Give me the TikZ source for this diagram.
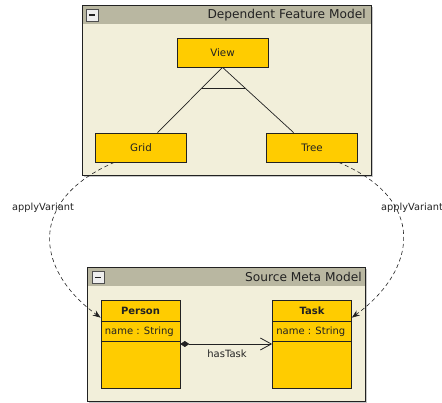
\documentclass[tikz,border=0pt]{standalone}
\usepackage{fontspec}
\setmainfont{DejaVu Sans}
\usetikzlibrary{arrows.meta,calc}
\definecolor{featfill}{HTML}{FFCC00}
\definecolor{pkgbg}{HTML}{F2EFDA}
\definecolor{pkghead}{HTML}{B9B7A1}
\definecolor{ink}{HTML}{222222}
\definecolor{btnfill}{HTML}{EEEEEE}
\tikzset{
  pkgframe/.style={draw=ink, fill=pkgbg, line width=0.9pt, anchor=north west, inner sep=0pt},
  pkgtitle/.style={anchor=east, text=ink, font=\fontsize{12.2}{14}\selectfont, inner sep=0pt},
  btn/.style={draw=ink!80, fill=btnfill, line width=0.6pt, minimum size=12pt, inner sep=0pt,
    path picture={\draw[ink, line width=1.5pt]
      ([xshift=-3.2pt]path picture bounding box.center) --
      ([xshift=3.2pt]path picture bounding box.center);}},
  feature/.style={draw=ink, fill=featfill, line width=0.7pt, minimum width=91pt,
    minimum height=29pt, inner sep=0pt, text=ink, font=\fontsize{10.3}{12}\selectfont},
  umlclass/.style={draw=ink, fill=featfill, line width=0.7pt, minimum width=79pt,
    minimum height=88pt, inner sep=0pt},
  classtext/.style={text=ink, inner sep=0pt, font=\fontsize{10}{12}\selectfont},
  edgelabel/.style={text=ink, inner sep=0pt, font=\fontsize{9.8}{11}\selectfont},
  treeline/.style={draw=ink, line width=0.7pt},
  variant/.style={draw=ink, line width=0.6pt, dash pattern=on 4pt off 3pt,
    -{Stealth[length=8pt,width=6pt]}},
}
\begin{document}
\begin{tikzpicture}[x=1pt, y=-1pt]
\useasboundingbox (0,0) rectangle (442,403);

% ---------- Dependent Feature Model package ----------
\fill[black!22] (84,7) rectangle (373,177);
\node[pkgframe, minimum width=289pt, minimum height=170pt] (fm) at (82,5) {};
\fill[pkghead] ([shift={(0.45pt,-0.45pt)}]fm.north west) rectangle ($(fm.north east)+(-0.45,19)$);
\draw[ink, line width=0.9pt] (fm.north west) rectangle (fm.south east);
\node[btn] (fmbtn) at ($(fm.north west)+(10,10)$) {};
\node[pkgtitle] (fmtitle) at ($(fm.north east)+(-6,10)$) {Dependent Feature Model};

\node[feature] (view) at (222.5,52.5) {View};
\node[feature] (grid) at (141,147.5) {Grid};
\node[feature] (tree) at (312,147.5) {Tree};

\coordinate (gridtop) at ($(grid.north west)!0.68!(grid.north east)$);
\coordinate (treetop) at ($(tree.north west)!0.30!(tree.north east)$);
\draw[treeline] (view.south) -- (gridtop);
\draw[treeline] (view.south) -- (treetop);
% alternative group arc
\draw[treeline] ($(view.south)!0.318!(gridtop)$) -- ($(view.south)!0.318!(treetop)$);

% ---------- Source Meta Model package ----------
\fill[black!22] (89,269) rectangle (367,403);
\node[pkgframe, minimum width=278pt, minimum height=134pt] (mm) at (87,267) {};
\fill[pkghead] ([shift={(0.45pt,-0.45pt)}]mm.north west) rectangle ($(mm.north east)+(-0.45,19)$);
\draw[ink, line width=0.9pt] (mm.north west) rectangle (mm.south east);
\node[btn] (mmbtn) at ($(mm.north west)+(11,10.5)$) {};
\node[pkgtitle] (mmtitle) at ($(mm.north east)+(-4,10)$) {Source Meta Model};

\node[umlclass] (person) at (140.5,344) {};
\node[umlclass] (task) at (312,344) {};
\foreach \c in {person,task}{
  \draw[ink, line width=0.7pt] ($(\c.north west)+(0,22)$) -- ($(\c.north east)+(0,22)$);
  \draw[ink, line width=0.7pt] ($(\c.north west)+(0,42)$) -- ($(\c.north east)+(0,42)$);
}
\node[classtext, font=\fontsize{10}{12}\selectfont\bfseries] (persontitle) at ($(person.north)+(0,11)$) {Person};
\node[classtext, anchor=west] (personattr) at ($(person.north west)+(4,32)$) {name : String};
\node[classtext, font=\fontsize{10}{12}\selectfont\bfseries] (tasktitle) at ($(task.north)+(0,11)$) {Task};
\node[classtext, anchor=west] (taskattr) at ($(task.north west)+(4,32)$) {name : String};

\draw[ink, line width=0.7pt, {Diamond[length=9pt,width=6pt]}-{Straight Barb[length=11pt,width=12pt,line width=0.8pt]}]
  (person.east) -- (task.west);
\node[edgelabel, font=\fontsize{10}{12}\selectfont] (hastask) at (227,354) {hasTask};

% ---------- applyVariant mappings ----------
\coordinate (gridbot) at ($(grid.south west)!0.21!(grid.south east)$);
\coordinate (treebot) at ($(tree.south west)!0.79!(tree.south east)$);
\coordinate (personin) at ($(person.north west)+(0,18)$);
\coordinate (taskin) at ($(task.north east)+(0,18)$);
\draw[variant] (gridbot) .. controls (27,200) and (35,270) .. (personin);
\draw[variant] (treebot) .. controls (428,200) and (417,270) .. (taskin);
\node[edgelabel] (avleft) at (43,208) {applyVariant};
\node[edgelabel, anchor=west] (avright) at (381,208) {applyVariant};
\end{tikzpicture}
\end{document}
